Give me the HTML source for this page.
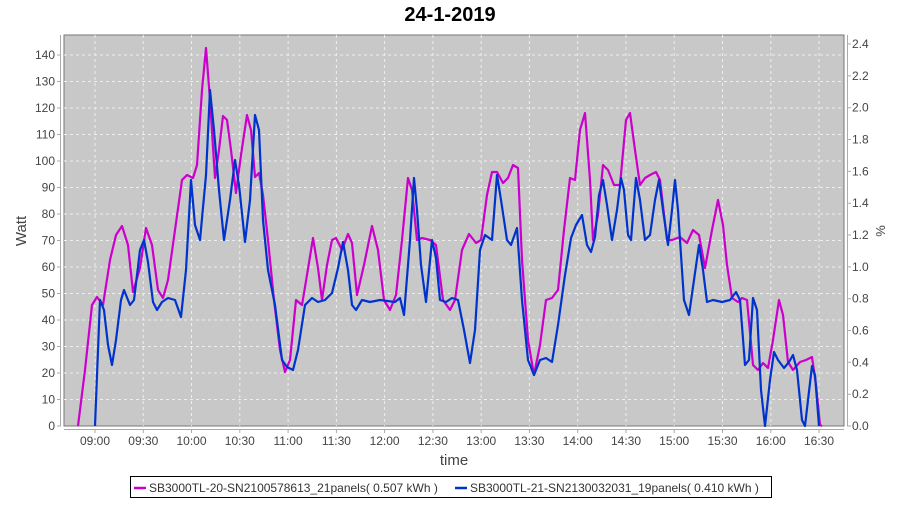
<!DOCTYPE html>
<html><head><style>
body{margin:0;background:#fff;}
svg text{font-family:"Liberation Sans",sans-serif;}
</style></head><body>
<svg width="900" height="500" xmlns="http://www.w3.org/2000/svg">
<text x="450" y="21" text-anchor="middle" font-size="20" font-weight="bold" fill="#000">24-1-2019</text>
<rect x="64" y="35" width="780" height="391" fill="#c8c8c8" stroke="#777" stroke-width="1"/>
<path stroke="#eee" stroke-width="1" stroke-dasharray="3,3" fill="none" d="M64,399.5H844M64,373H844M64,346.5H844M64,320H844M64,293.5H844M64,267H844M64,240.5H844M64,214H844M64,187.5H844M64,161H844M64,134.5H844M64,108H844M64,81.5H844M64,55H844M95,35V426M143.3,35V426M191.5,35V426M239.8,35V426M288.1,35V426M336.4,35V426M384.6,35V426M432.9,35V426M481.2,35V426M529.4,35V426M577.7,35V426M626,35V426M674.2,35V426M722.5,35V426M770.8,35V426M819,35V426"/>
<line x1="60.5" y1="35" x2="60.5" y2="426" stroke="#aaa"/>
<line x1="847.5" y1="35" x2="847.5" y2="426" stroke="#aaa"/>
<line x1="64" y1="429.5" x2="844" y2="429.5" stroke="#aaa"/>
<path stroke="#aaa" fill="none" d="M57,426H61M57,399.5H61M57,373H61M57,346.5H61M57,320H61M57,293.5H61M57,267H61M57,240.5H61M57,214H61M57,187.5H61M57,161H61M57,134.5H61M57,108H61M57,81.5H61M57,55H61M847,426H851M847,394.2H851M847,362.3H851M847,330.5H851M847,298.7H851M847,266.9H851M847,235H851M847,203.2H851M847,171.4H851M847,139.5H851M847,107.7H851M847,75.9H851M847,44H851M95,429V433M143.3,429V433M191.5,429V433M239.8,429V433M288.1,429V433M336.4,429V433M384.6,429V433M432.9,429V433M481.2,429V433M529.4,429V433M577.7,429V433M626,429V433M674.2,429V433M722.5,429V433M770.8,429V433M819,429V433"/>
<g font-size="12" fill="#444" text-anchor="end">
<text x="55" y="430">0</text><text x="55" y="403.5">10</text><text x="55" y="377">20</text><text x="55" y="350.5">30</text><text x="55" y="324">40</text><text x="55" y="297.5">50</text><text x="55" y="271">60</text><text x="55" y="244.5">70</text><text x="55" y="218">80</text><text x="55" y="191.5">90</text><text x="55" y="165">100</text><text x="55" y="138.5">110</text><text x="55" y="112">120</text><text x="55" y="85.5">130</text><text x="55" y="59">140</text>
</g>
<g font-size="12" fill="#444">
<text x="852" y="430">0.0</text><text x="852" y="398.2">0.2</text><text x="852" y="366.3">0.4</text><text x="852" y="334.5">0.6</text><text x="852" y="302.7">0.8</text><text x="852" y="270.9">1.0</text><text x="852" y="239">1.2</text><text x="852" y="207.2">1.4</text><text x="852" y="175.4">1.6</text><text x="852" y="143.5">1.8</text><text x="852" y="111.7">2.0</text><text x="852" y="79.9">2.2</text><text x="852" y="48">2.4</text>
</g>
<g font-size="12" fill="#444" text-anchor="middle">
<text x="95" y="445">09:00</text><text x="143.3" y="445">09:30</text><text x="191.5" y="445">10:00</text><text x="239.8" y="445">10:30</text><text x="288.1" y="445">11:00</text><text x="336.4" y="445">11:30</text><text x="384.6" y="445">12:00</text><text x="432.9" y="445">12:30</text><text x="481.2" y="445">13:00</text><text x="529.4" y="445">13:30</text><text x="577.7" y="445">14:00</text><text x="626" y="445">14:30</text><text x="674.2" y="445">15:00</text><text x="722.5" y="445">15:30</text><text x="770.8" y="445">16:00</text><text x="819" y="445">16:30</text>
</g>
<text transform="translate(26,231) rotate(-90)" text-anchor="middle" font-size="15" fill="#444">Watt</text>
<text transform="translate(885,231) rotate(-90)" text-anchor="middle" font-size="13" fill="#444">%</text>
<text x="454" y="465" text-anchor="middle" font-size="15" fill="#444">time</text>
<polyline fill="none" stroke="#cc00cc" stroke-width="2.2" stroke-linejoin="round" points="78,426 85,370 92,305 97,297 103,305 110,260 116,235 122,226 128,245 133,292 140,268 146,228 152,245 158,290 163,298 168,280 175,230 182,180 187,175 193,178 197,165 202,90 206,48 210,100 215,178 219,150 223,116 227,120 231,150 236,193 241,155 247,115 251,130 255,177 259,173 263,195 268,240 274,300 280,350 285,372 290,360 296,300 302,305 307,275 313,238 318,268 322,300 327,265 332,240 336,238 342,250 348,234 352,243 357,295 364,265 372,226 378,250 384,300 390,310 396,295 402,240 408,178 412,190 417,240 422,238 430,240 436,245 443,300 450,310 455,300 462,250 469,234 476,243 481,240 487,195 492,172 497,172 503,183 508,178 513,165 518,168 522,260 528,340 534,375 540,345 546,300 552,298 558,290 564,230 570,178 575,180 580,130 585,113 590,180 593,240 598,215 603,165 608,170 614,185 620,185 626,120 630,113 635,150 640,185 645,178 650,175 656,172 660,180 667,240 672,240 680,237 687,243 693,230 699,235 705,268 712,230 718,200 723,225 727,265 732,298 738,302 742,298 747,300 753,365 758,370 763,363 768,368 773,340 779,300 783,315 788,362 793,370 800,362 806,360 812,357 816,385 820,425 822,426"/>
<polyline fill="none" stroke="#0033cc" stroke-width="2.2" stroke-linejoin="round" points="95,426 100,300 104,310 108,345 112,365 116,340 121,300 124,290 130,305 134,300 140,250 144,240 148,262 153,302 157,310 162,302 168,298 175,300 181,317 186,270 191,180 195,225 200,240 206,175 210,90 214,130 219,190 224,240 230,200 235,160 239,185 245,242 250,200 255,115 259,130 263,220 268,270 275,305 282,360 287,367 293,370 298,350 305,305 312,298 318,302 325,300 332,293 338,268 343,242 348,270 352,305 356,310 362,300 370,302 380,300 395,302 400,298 404,315 410,240 414,178 417,210 421,265 426,302 432,240 436,258 440,300 446,302 452,298 458,300 464,330 470,363 475,330 480,250 485,235 492,240 497,175 501,200 507,240 511,245 517,228 522,300 528,360 534,375 540,360 546,358 552,362 558,325 565,275 571,238 576,225 582,215 587,245 591,252 595,237 599,195 603,180 607,205 612,240 617,210 621,178 624,190 628,235 631,240 636,178 640,200 645,240 650,235 655,200 659,180 663,210 668,245 672,210 675,180 678,210 684,300 689,315 694,280 699,245 703,270 707,302 713,300 722,302 730,300 736,292 740,300 745,365 749,360 753,298 757,310 761,390 765,426 770,380 774,352 778,360 784,368 789,362 793,355 797,370 802,420 805,426 808,400 812,366 815,375 819,426"/>
<rect x="130.5" y="476.5" width="641" height="21" fill="#fff" stroke="#000"/>
<line x1="134" y1="488" x2="146" y2="488" stroke="#cc00cc" stroke-width="2.5"/>
<text x="149" y="492" font-size="12" fill="#333">SB3000TL-20-SN2100578613_21panels( 0.507 kWh )</text>
<line x1="455" y1="488" x2="467" y2="488" stroke="#0033cc" stroke-width="2.5"/>
<text x="470" y="492" font-size="12" fill="#333">SB3000TL-21-SN2130032031_19panels( 0.410 kWh )</text>
</svg>
</body></html>
